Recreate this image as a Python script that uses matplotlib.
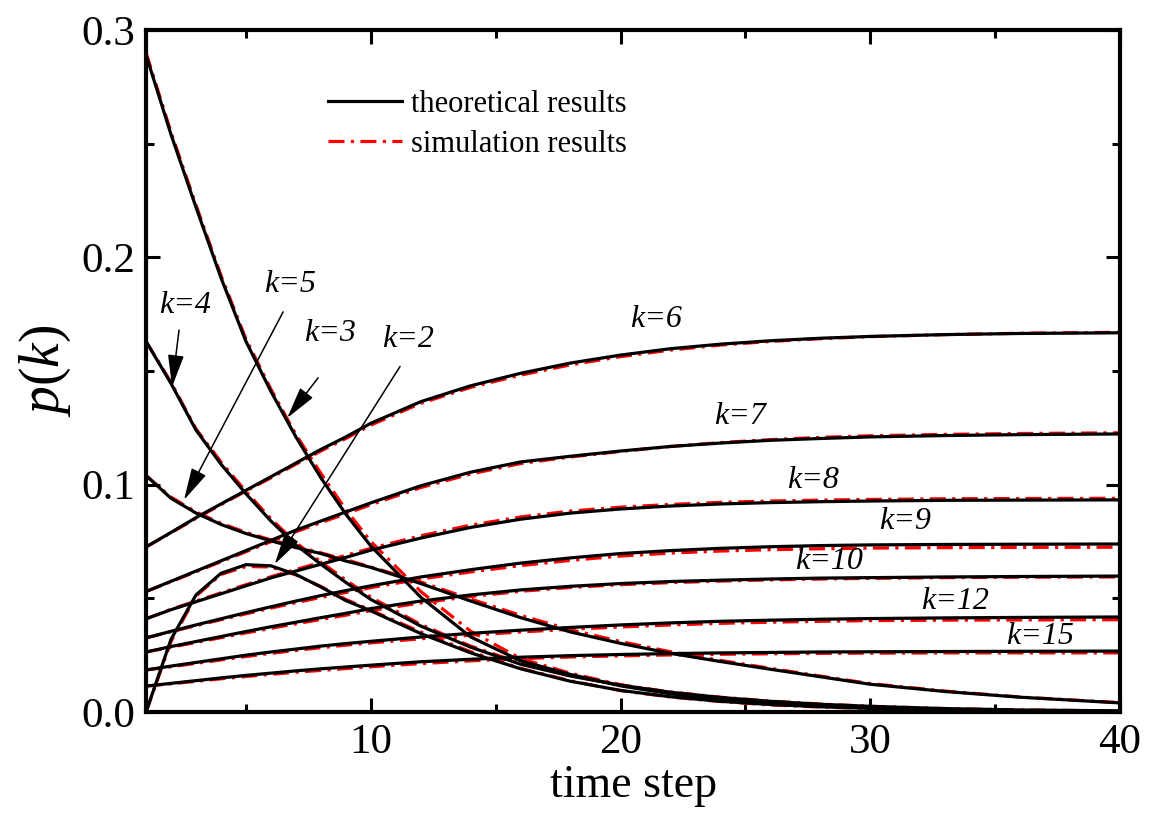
import matplotlib.pyplot as plt

plt.rcParams['font.family'] = 'Liberation Serif'
plt.rcParams['mathtext.fontset'] = 'custom'
plt.rcParams['mathtext.it'] = 'Liberation Serif:italic'
plt.rcParams['mathtext.rm'] = 'Liberation Serif'

# time steps
t = [1, 2, 3, 4, 5, 6, 7, 8, 9, 10, 12, 14, 16, 18, 20, 22, 24, 26, 28, 30, 33, 36, 40]

# theoretical results, p(k)
theo = {
    2: [0, .032, .0515, .061, .0648, .0643, .0605, .055, .049, .0445, .0345, .026, .019, .0135, .0095,
        .0067, .0047, .0033, .0023, .0016, .0009, .0005, .0002],
    3: [.289, .254, .222, .191, .163, .141, .121, .103, .087, .073, .0505, .033, .0225, .0165, .0115,
        .008, .0055, .0038, .0026, .0018, .001, .0006, .0003],
    4: [.163, .1445, .124, .109, .096, .084, .0735, .065, .057, .0495, .0378, .0285, .021, .0158, .0118,
        .0087, .0064, .0047, .0034, .0025, .0015, .0009, .0005],
    5: [.104, .094, .0875, .0825, .0785, .0753, .0723, .0697, .0664, .0636, .0565, .0488, .0415, .0352, .0302,
        .0258, .0222, .0188, .0155, .0122, .009, .0065, .004],
    6: [.0726, .079, .0855, .0915, .0975, .1035, .1095, .1155, .121, .127, .1365, .1435, .149, .1535, .157,
        .1598, .1618, .1633, .1644, .1652, .166, .1665, .1668],
    7: [.053, .0575, .062, .0665, .071, .0755, .080, .084, .088, .092, .0995, .1055, .110, .1125, .1148,
        .1168, .1183, .1195, .1203, .121, .1216, .122, .1223],
    8: [.041, .045, .0485, .052, .0555, .059, .062, .065, .068, .0712, .0765, .0812, .0848, .0875, .0893,
        .0906, .0915, .0921, .0925, .0928, .0931, .0932, .0933],
    9: [.0326, .0355, .0383, .041, .0437, .0463, .0488, .0512, .0534, .0555, .0594, .0626, .0655, .0678, .0697,
        .071, .072, .0727, .0732, .0735, .0737, .0738, .0739],
    10: [.0264, .0288, .031, .0332, .0354, .0375, .0395, .0415, .0434, .0455, .0488, .0515, .0537, .0553, .0565,
         .0574, .058, .0585, .0589, .0591, .0594, .0596, .0598],
    12: [.0185, .0202, .0218, .0234, .025, .0264, .0277, .029, .0301, .0311, .033, .0346, .036, .0372, .0383,
         .0392, .0399, .0404, .0408, .0411, .0414, .0416, .0418],
    15: [.0114, .0126, .0138, .015, .0161, .0171, .0181, .019, .0198, .0206, .0221, .0232, .0241, .0248, .0253,
         .0257, .026, .0262, .0264, .0265, .0266, .0267, .0268],
}

# simulation results, p(k)
sim = {
    2: [0, .031, .051, .0605, .064, .0638, .0603, .0552, .0495, .0448, .0352, .0265, .0192, .0137, .0094,
        .0066, .0046, .0031, .0022, .0015, .0008, .0004, .0002],
    3: [.290, .255, .223, .192, .164, .142, .122, .105, .089, .075, .053, .0355, .0235, .017, .012,
        .0085, .0058, .004, .0028, .0019, .0011, .0006, .0003],
    4: [.163, .145, .1245, .110, .097, .085, .0745, .066, .058, .0505, .0385, .029, .0215, .016, .0119,
        .0088, .0065, .0048, .0035, .0025, .0015, .0009, .0005],
    5: [.104, .0945, .088, .083, .079, .0757, .0728, .070, .067, .0638, .0572, .0497, .0425, .0362, .031,
        .0265, .0227, .0192, .0158, .0125, .0092, .0066, .0041],
    6: [.0726, .0788, .0852, .0912, .0972, .103, .109, .1148, .1203, .1262, .1358, .1428, .1482, .1527, .1563,
        .1592, .1614, .163, .1642, .1651, .166, .1666, .167],
    7: [.053, .0573, .0617, .0661, .0705, .0749, .0793, .0833, .0872, .0912, .0987, .1047, .1093, .1122, .1146,
        .1168, .1185, .1198, .1208, .1215, .1221, .1225, .1228],
    8: [.041, .0452, .0488, .0524, .056, .0595, .0627, .0658, .0689, .072, .0775, .0822, .0858, .0884, .0901,
        .0913, .0922, .0928, .0932, .0935, .0938, .0939, .094],
    9: [.0326, .0353, .038, .0406, .0432, .0457, .0481, .0504, .0526, .0547, .0585, .0616, .0644, .0667, .0686,
        .0699, .0708, .0714, .0718, .0721, .0723, .0724, .0725],
    10: [.0264, .0285, .0306, .0327, .0348, .0368, .0388, .0407, .0426, .0446, .048, .0508, .0531, .0548, .056,
         .0569, .0576, .0581, .0585, .0588, .0591, .0593, .0594],
    12: [.0185, .0199, .0214, .0229, .0244, .0258, .0271, .0283, .0294, .0304, .0322, .0338, .0352, .0364, .0374,
         .0383, .039, .0395, .0399, .0402, .0404, .0405, .0406],
    15: [.0114, .0124, .0135, .0146, .0156, .0166, .0175, .0183, .0191, .0199, .0213, .0225, .0235, .0242, .0247,
         .0251, .0254, .0256, .0258, .0259, .026, .026, .026],
}

# curve labels (x, y)
label_k = [6, 7, 8, 9, 10, 12, 15]
label_xy = [(21.4, 0.1725), (24.8, 0.130), (27.7, 0.102), (31.4, 0.0836), (28.35, 0.066), (33.4, 0.0484), (36.8, 0.033)]

# arrow labels: k, text pos, tail, head
arrow_k = [4, 5, 3, 2]
arrow_text = [(2.56, 0.179), (6.77, 0.188), (8.37, 0.1667), (11.5, 0.1637)]
arrow_tail = [(2.32, 0.168), (6.49, 0.176), (7.89, 0.147), (11.17, 0.152)]
arrow_head = [(2.04, 0.143), (2.52, 0.0933), (6.65, 0.1293), (6.15, 0.065)]

fig = plt.figure(figsize=(11.5, 8.14), dpi=100)
ax = fig.add_axes([0.127, 0.1253, 0.847, 0.8379])

first = True
for k in theo:
    ax.plot(t, sim[k], color='red', lw=2.3, linestyle=(0, (5, 2, 1, 2)),
            label='simulation results' if first else None, zorder=2)
    ax.plot(t, theo[k], '-', color='black', lw=2.3, label='theoretical results' if first else None, zorder=3)
    first = False

for k, (x, y) in zip(label_k, label_xy):
    ax.text(x, y, 'k=%d' % k, fontsize=23, ha='center', va='center', style='italic')

for k, txt, tail, head in zip(arrow_k, arrow_text, arrow_tail, arrow_head):
    ax.text(txt[0], txt[1], 'k=%d' % k, fontsize=23, ha='center', va='center', style='italic')
    ax.annotate('', xy=head, xytext=tail,
                arrowprops=dict(arrowstyle='-|>,head_length=1.0,head_width=0.25', color='black', lw=1.1,
                                shrinkA=0, shrinkB=0, mutation_scale=20))

ax.set_xlim(1, 40)
ax.set_ylim(0, 0.3)
ax.set_xticks([10, 20, 30, 40])
ax.set_xticks([5, 15, 25, 35], minor=True)
ax.set_yticks([0.0, 0.1, 0.2, 0.3])
ax.set_yticks([0.05, 0.15, 0.25], minor=True)
ax.set_yticklabels(['0.0', '0.1', '0.2', '0.3'])
ax.tick_params(which='both', direction='in', top=True, right=True, width=2.2, labelsize=31, pad=8)
ax.tick_params(which='major', length=10)
ax.tick_params(which='minor', length=6)
for s in ax.spines.values():
    s.set_linewidth(3)

ax.set_xlabel('time step', fontsize=33, labelpad=2)
ax.set_ylabel('$p(k)$', fontsize=40, labelpad=6)

handles, labels = ax.get_legend_handles_labels()
order = [labels.index('theoretical results'), labels.index('simulation results')]
ax.legend([handles[i] for i in order], [labels[i] for i in order],
          loc='upper left', bbox_to_anchor=(0.187, 0.912), frameon=False, fontsize=22,
          handlelength=2.4, handletextpad=0.3, labelspacing=0.35, borderpad=0, borderaxespad=0)

plt.savefig('out.png', dpi=100)
